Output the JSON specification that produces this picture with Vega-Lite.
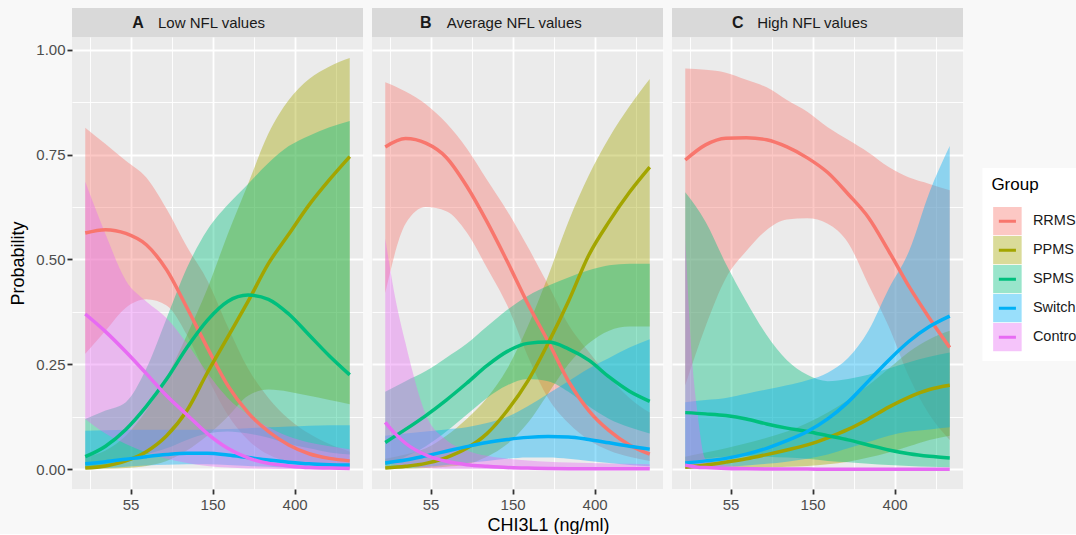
{
"$schema": "https://vega.github.io/schema/vega-lite/v6.json",
"background": "#F8F8F8",
"padding": {"left": 9, "top": 8, "right": 0, "bottom": 0},
"datasets": {"nfl": [
{"p":"A","g":"RRMS","x":31.4,"y":0.563,"lo":0.275,"hi":0.814},
{"p":"A","g":"RRMS","x":40.2,"y":0.571,"lo":0.33,"hi":0.775},
{"p":"A","g":"RRMS","x":51.5,"y":0.562,"lo":0.385,"hi":0.735},
{"p":"A","g":"RRMS","x":66.1,"y":0.535,"lo":0.405,"hi":0.695},
{"p":"A","g":"RRMS","x":84.7,"y":0.475,"lo":0.39,"hi":0.62},
{"p":"A","g":"RRMS","x":108.5,"y":0.385,"lo":0.32,"hi":0.53},
{"p":"A","g":"RRMS","x":139.1,"y":0.29,"lo":0.22,"hi":0.45},
{"p":"A","g":"RRMS","x":178.4,"y":0.2,"lo":0.13,"hi":0.34},
{"p":"A","g":"RRMS","x":228.6,"y":0.135,"lo":0.07,"hi":0.24},
{"p":"A","g":"RRMS","x":293.0,"y":0.09,"lo":0.035,"hi":0.17},
{"p":"A","g":"RRMS","x":375.5,"y":0.058,"lo":0.018,"hi":0.12},
{"p":"A","g":"RRMS","x":481.4,"y":0.037,"lo":0.01,"hi":0.085},
{"p":"A","g":"RRMS","x":617.0,"y":0.026,"lo":0.005,"hi":0.06},
{"p":"A","g":"RRMS","x":790.1,"y":0.02,"lo":0.003,"hi":0.042},
{"p":"A","g":"PPMS","x":31.4,"y":0.003,"lo":0.0005,"hi":0.03},
{"p":"A","g":"PPMS","x":40.2,"y":0.008,"lo":0.001,"hi":0.045},
{"p":"A","g":"PPMS","x":51.5,"y":0.02,"lo":0.003,"hi":0.08},
{"p":"A","g":"PPMS","x":66.1,"y":0.042,"lo":0.008,"hi":0.14},
{"p":"A","g":"PPMS","x":84.7,"y":0.08,"lo":0.02,"hi":0.22},
{"p":"A","g":"PPMS","x":108.5,"y":0.14,"lo":0.045,"hi":0.32},
{"p":"A","g":"PPMS","x":139.1,"y":0.23,"lo":0.08,"hi":0.43},
{"p":"A","g":"PPMS","x":178.4,"y":0.315,"lo":0.125,"hi":0.56},
{"p":"A","g":"PPMS","x":228.6,"y":0.4,"lo":0.175,"hi":0.68},
{"p":"A","g":"PPMS","x":293.0,"y":0.49,"lo":0.19,"hi":0.8},
{"p":"A","g":"PPMS","x":375.5,"y":0.56,"lo":0.185,"hi":0.88},
{"p":"A","g":"PPMS","x":481.4,"y":0.63,"lo":0.175,"hi":0.93},
{"p":"A","g":"PPMS","x":617.0,"y":0.69,"lo":0.165,"hi":0.96},
{"p":"A","g":"PPMS","x":790.1,"y":0.745,"lo":0.155,"hi":0.98},
{"p":"A","g":"SPMS","x":31.4,"y":0.03,"lo":0.005,"hi":0.12},
{"p":"A","g":"SPMS","x":40.2,"y":0.055,"lo":0.01,"hi":0.14},
{"p":"A","g":"SPMS","x":51.5,"y":0.095,"lo":0.02,"hi":0.16},
{"p":"A","g":"SPMS","x":66.1,"y":0.15,"lo":0.035,"hi":0.24},
{"p":"A","g":"SPMS","x":84.7,"y":0.215,"lo":0.05,"hi":0.36},
{"p":"A","g":"SPMS","x":108.5,"y":0.29,"lo":0.07,"hi":0.48},
{"p":"A","g":"SPMS","x":139.1,"y":0.355,"lo":0.085,"hi":0.57},
{"p":"A","g":"SPMS","x":178.4,"y":0.4,"lo":0.09,"hi":0.63},
{"p":"A","g":"SPMS","x":228.6,"y":0.415,"lo":0.085,"hi":0.68},
{"p":"A","g":"SPMS","x":293.0,"y":0.405,"lo":0.075,"hi":0.73},
{"p":"A","g":"SPMS","x":375.5,"y":0.37,"lo":0.06,"hi":0.77},
{"p":"A","g":"SPMS","x":481.4,"y":0.32,"lo":0.05,"hi":0.795},
{"p":"A","g":"SPMS","x":617.0,"y":0.27,"lo":0.04,"hi":0.815},
{"p":"A","g":"SPMS","x":790.1,"y":0.225,"lo":0.035,"hi":0.83},
{"p":"A","g":"Switch","x":31.4,"y":0.013,"lo":0.001,"hi":0.092},
{"p":"A","g":"Switch","x":40.2,"y":0.018,"lo":0.003,"hi":0.093},
{"p":"A","g":"Switch","x":51.5,"y":0.024,"lo":0.006,"hi":0.094},
{"p":"A","g":"Switch","x":66.1,"y":0.03,"lo":0.009,"hi":0.094},
{"p":"A","g":"Switch","x":84.7,"y":0.035,"lo":0.011,"hi":0.094},
{"p":"A","g":"Switch","x":108.5,"y":0.038,"lo":0.012,"hi":0.094},
{"p":"A","g":"Switch","x":139.1,"y":0.038,"lo":0.012,"hi":0.095},
{"p":"A","g":"Switch","x":178.4,"y":0.034,"lo":0.01,"hi":0.096},
{"p":"A","g":"Switch","x":228.6,"y":0.028,"lo":0.008,"hi":0.098},
{"p":"A","g":"Switch","x":293.0,"y":0.022,"lo":0.006,"hi":0.1},
{"p":"A","g":"Switch","x":375.5,"y":0.017,"lo":0.004,"hi":0.102},
{"p":"A","g":"Switch","x":481.4,"y":0.013,"lo":0.003,"hi":0.104},
{"p":"A","g":"Switch","x":617.0,"y":0.011,"lo":0.002,"hi":0.105},
{"p":"A","g":"Switch","x":790.1,"y":0.01,"lo":0.002,"hi":0.105},
{"p":"A","g":"Control","x":31.4,"y":0.37,"lo":0.12,"hi":0.685},
{"p":"A","g":"Control","x":40.2,"y":0.328,"lo":0.085,"hi":0.56},
{"p":"A","g":"Control","x":51.5,"y":0.28,"lo":0.06,"hi":0.45},
{"p":"A","g":"Control","x":66.1,"y":0.228,"lo":0.04,"hi":0.4},
{"p":"A","g":"Control","x":84.7,"y":0.175,"lo":0.025,"hi":0.36},
{"p":"A","g":"Control","x":108.5,"y":0.13,"lo":0.015,"hi":0.3},
{"p":"A","g":"Control","x":139.1,"y":0.085,"lo":0.008,"hi":0.23},
{"p":"A","g":"Control","x":178.4,"y":0.05,"lo":0.004,"hi":0.17},
{"p":"A","g":"Control","x":228.6,"y":0.027,"lo":0.002,"hi":0.13},
{"p":"A","g":"Control","x":293.0,"y":0.014,"lo":0.001,"hi":0.1},
{"p":"A","g":"Control","x":375.5,"y":0.008,"lo":0.0005,"hi":0.078},
{"p":"A","g":"Control","x":481.4,"y":0.004,"lo":0.0003,"hi":0.064},
{"p":"A","g":"Control","x":617.0,"y":0.003,"lo":0.0002,"hi":0.055},
{"p":"A","g":"Control","x":790.1,"y":0.002,"lo":0.0001,"hi":0.048},
{"p":"B","g":"RRMS","x":31.4,"y":0.768,"lo":0.42,"hi":0.922},
{"p":"B","g":"RRMS","x":40.2,"y":0.788,"lo":0.585,"hi":0.9},
{"p":"B","g":"RRMS","x":51.5,"y":0.777,"lo":0.625,"hi":0.87},
{"p":"B","g":"RRMS","x":66.1,"y":0.743,"lo":0.615,"hi":0.825},
{"p":"B","g":"RRMS","x":84.7,"y":0.675,"lo":0.565,"hi":0.765},
{"p":"B","g":"RRMS","x":108.5,"y":0.59,"lo":0.48,"hi":0.69},
{"p":"B","g":"RRMS","x":139.1,"y":0.495,"lo":0.39,"hi":0.615},
{"p":"B","g":"RRMS","x":178.4,"y":0.395,"lo":0.27,"hi":0.53},
{"p":"B","g":"RRMS","x":228.6,"y":0.305,"lo":0.17,"hi":0.44},
{"p":"B","g":"RRMS","x":293.0,"y":0.21,"lo":0.11,"hi":0.345},
{"p":"B","g":"RRMS","x":375.5,"y":0.14,"lo":0.07,"hi":0.28},
{"p":"B","g":"RRMS","x":481.4,"y":0.092,"lo":0.045,"hi":0.22},
{"p":"B","g":"RRMS","x":617.0,"y":0.058,"lo":0.03,"hi":0.17},
{"p":"B","g":"RRMS","x":790.1,"y":0.036,"lo":0.02,"hi":0.135},
{"p":"B","g":"PPMS","x":31.4,"y":0.003,"lo":0.0005,"hi":0.025},
{"p":"B","g":"PPMS","x":40.2,"y":0.007,"lo":0.001,"hi":0.035},
{"p":"B","g":"PPMS","x":51.5,"y":0.014,"lo":0.003,"hi":0.05},
{"p":"B","g":"PPMS","x":66.1,"y":0.028,"lo":0.006,"hi":0.08},
{"p":"B","g":"PPMS","x":84.7,"y":0.05,"lo":0.012,"hi":0.12},
{"p":"B","g":"PPMS","x":108.5,"y":0.085,"lo":0.03,"hi":0.17},
{"p":"B","g":"PPMS","x":139.1,"y":0.14,"lo":0.06,"hi":0.24},
{"p":"B","g":"PPMS","x":178.4,"y":0.21,"lo":0.11,"hi":0.34},
{"p":"B","g":"PPMS","x":228.6,"y":0.3,"lo":0.18,"hi":0.46},
{"p":"B","g":"PPMS","x":293.0,"y":0.4,"lo":0.25,"hi":0.59},
{"p":"B","g":"PPMS","x":375.5,"y":0.51,"lo":0.3,"hi":0.7},
{"p":"B","g":"PPMS","x":481.4,"y":0.59,"lo":0.33,"hi":0.79},
{"p":"B","g":"PPMS","x":617.0,"y":0.66,"lo":0.34,"hi":0.865},
{"p":"B","g":"PPMS","x":790.1,"y":0.72,"lo":0.34,"hi":0.93},
{"p":"B","g":"SPMS","x":31.4,"y":0.064,"lo":0.01,"hi":0.185},
{"p":"B","g":"SPMS","x":40.2,"y":0.095,"lo":0.03,"hi":0.21},
{"p":"B","g":"SPMS","x":51.5,"y":0.128,"lo":0.055,"hi":0.234},
{"p":"B","g":"SPMS","x":66.1,"y":0.165,"lo":0.09,"hi":0.266},
{"p":"B","g":"SPMS","x":84.7,"y":0.205,"lo":0.13,"hi":0.299},
{"p":"B","g":"SPMS","x":108.5,"y":0.247,"lo":0.17,"hi":0.34},
{"p":"B","g":"SPMS","x":139.1,"y":0.281,"lo":0.2,"hi":0.38},
{"p":"B","g":"SPMS","x":178.4,"y":0.3,"lo":0.215,"hi":0.413},
{"p":"B","g":"SPMS","x":228.6,"y":0.303,"lo":0.21,"hi":0.437},
{"p":"B","g":"SPMS","x":293.0,"y":0.287,"lo":0.185,"hi":0.457},
{"p":"B","g":"SPMS","x":375.5,"y":0.26,"lo":0.15,"hi":0.474},
{"p":"B","g":"SPMS","x":481.4,"y":0.22,"lo":0.12,"hi":0.486},
{"p":"B","g":"SPMS","x":617.0,"y":0.186,"lo":0.1,"hi":0.49},
{"p":"B","g":"SPMS","x":790.1,"y":0.162,"lo":0.085,"hi":0.49},
{"p":"B","g":"Switch","x":31.4,"y":0.015,"lo":0.002,"hi":0.08},
{"p":"B","g":"Switch","x":40.2,"y":0.022,"lo":0.003,"hi":0.085},
{"p":"B","g":"Switch","x":51.5,"y":0.032,"lo":0.006,"hi":0.09},
{"p":"B","g":"Switch","x":66.1,"y":0.043,"lo":0.01,"hi":0.095},
{"p":"B","g":"Switch","x":84.7,"y":0.054,"lo":0.015,"hi":0.1},
{"p":"B","g":"Switch","x":108.5,"y":0.064,"lo":0.02,"hi":0.11},
{"p":"B","g":"Switch","x":139.1,"y":0.071,"lo":0.025,"hi":0.125},
{"p":"B","g":"Switch","x":178.4,"y":0.076,"lo":0.028,"hi":0.15},
{"p":"B","g":"Switch","x":228.6,"y":0.078,"lo":0.028,"hi":0.18},
{"p":"B","g":"Switch","x":293.0,"y":0.077,"lo":0.025,"hi":0.21},
{"p":"B","g":"Switch","x":375.5,"y":0.071,"lo":0.02,"hi":0.24},
{"p":"B","g":"Switch","x":481.4,"y":0.063,"lo":0.015,"hi":0.265},
{"p":"B","g":"Switch","x":617.0,"y":0.055,"lo":0.01,"hi":0.29},
{"p":"B","g":"Switch","x":790.1,"y":0.048,"lo":0.007,"hi":0.31},
{"p":"B","g":"Control","x":31.4,"y":0.112,"lo":0.02,"hi":0.55},
{"p":"B","g":"Control","x":35.4,"y":0.085,"lo":0.012,"hi":0.41},
{"p":"B","g":"Control","x":40.2,"y":0.062,"lo":0.008,"hi":0.3},
{"p":"B","g":"Control","x":51.5,"y":0.034,"lo":0.003,"hi":0.13},
{"p":"B","g":"Control","x":66.1,"y":0.019,"lo":0.0015,"hi":0.07},
{"p":"B","g":"Control","x":84.7,"y":0.011,"lo":0.001,"hi":0.045},
{"p":"B","g":"Control","x":108.5,"y":0.007,"lo":0.0005,"hi":0.032},
{"p":"B","g":"Control","x":139.1,"y":0.004,"lo":0.0003,"hi":0.025},
{"p":"B","g":"Control","x":178.4,"y":0.003,"lo":0.0002,"hi":0.021},
{"p":"B","g":"Control","x":228.6,"y":0.002,"lo":0.0001,"hi":0.018},
{"p":"B","g":"Control","x":293.0,"y":0.0015,"lo":0.0001,"hi":0.016},
{"p":"B","g":"Control","x":375.5,"y":0.001,"lo":0.0001,"hi":0.015},
{"p":"B","g":"Control","x":481.4,"y":0.001,"lo":0.0001,"hi":0.014},
{"p":"B","g":"Control","x":617.0,"y":0.001,"lo":0.0001,"hi":0.013},
{"p":"B","g":"Control","x":790.1,"y":0.001,"lo":0.0001,"hi":0.012},
{"p":"C","g":"RRMS","x":31.4,"y":0.737,"lo":0.2,"hi":0.955},
{"p":"C","g":"RRMS","x":40.2,"y":0.773,"lo":0.34,"hi":0.952},
{"p":"C","g":"RRMS","x":51.5,"y":0.789,"lo":0.455,"hi":0.945},
{"p":"C","g":"RRMS","x":66.1,"y":0.79,"lo":0.52,"hi":0.928},
{"p":"C","g":"RRMS","x":84.7,"y":0.785,"lo":0.57,"hi":0.91},
{"p":"C","g":"RRMS","x":108.5,"y":0.768,"lo":0.595,"hi":0.88},
{"p":"C","g":"RRMS","x":139.1,"y":0.742,"lo":0.598,"hi":0.852},
{"p":"C","g":"RRMS","x":178.4,"y":0.707,"lo":0.585,"hi":0.815},
{"p":"C","g":"RRMS","x":228.6,"y":0.656,"lo":0.54,"hi":0.785},
{"p":"C","g":"RRMS","x":293.0,"y":0.6,"lo":0.44,"hi":0.755},
{"p":"C","g":"RRMS","x":375.5,"y":0.52,"lo":0.34,"hi":0.72},
{"p":"C","g":"RRMS","x":481.4,"y":0.435,"lo":0.22,"hi":0.695},
{"p":"C","g":"RRMS","x":617.0,"y":0.36,"lo":0.13,"hi":0.68},
{"p":"C","g":"RRMS","x":790.1,"y":0.29,"lo":0.07,"hi":0.665},
{"p":"C","g":"PPMS","x":31.4,"y":0.005,"lo":0.0005,"hi":0.03},
{"p":"C","g":"PPMS","x":40.2,"y":0.01,"lo":0.001,"hi":0.04},
{"p":"C","g":"PPMS","x":51.5,"y":0.017,"lo":0.002,"hi":0.05},
{"p":"C","g":"PPMS","x":66.1,"y":0.025,"lo":0.003,"hi":0.062},
{"p":"C","g":"PPMS","x":84.7,"y":0.035,"lo":0.004,"hi":0.075},
{"p":"C","g":"PPMS","x":108.5,"y":0.046,"lo":0.006,"hi":0.09},
{"p":"C","g":"PPMS","x":139.1,"y":0.058,"lo":0.008,"hi":0.11},
{"p":"C","g":"PPMS","x":178.4,"y":0.075,"lo":0.012,"hi":0.135},
{"p":"C","g":"PPMS","x":228.6,"y":0.095,"lo":0.018,"hi":0.165},
{"p":"C","g":"PPMS","x":293.0,"y":0.12,"lo":0.028,"hi":0.2},
{"p":"C","g":"PPMS","x":375.5,"y":0.148,"lo":0.04,"hi":0.24},
{"p":"C","g":"PPMS","x":481.4,"y":0.172,"lo":0.055,"hi":0.28},
{"p":"C","g":"PPMS","x":617.0,"y":0.19,"lo":0.07,"hi":0.31},
{"p":"C","g":"PPMS","x":790.1,"y":0.2,"lo":0.08,"hi":0.33},
{"p":"C","g":"SPMS","x":31.4,"y":0.135,"lo":0.015,"hi":0.66},
{"p":"C","g":"SPMS","x":40.2,"y":0.132,"lo":0.025,"hi":0.59},
{"p":"C","g":"SPMS","x":51.5,"y":0.128,"lo":0.03,"hi":0.49},
{"p":"C","g":"SPMS","x":66.1,"y":0.12,"lo":0.032,"hi":0.4},
{"p":"C","g":"SPMS","x":84.7,"y":0.108,"lo":0.03,"hi":0.32},
{"p":"C","g":"SPMS","x":108.5,"y":0.098,"lo":0.028,"hi":0.26},
{"p":"C","g":"SPMS","x":139.1,"y":0.09,"lo":0.025,"hi":0.225},
{"p":"C","g":"SPMS","x":178.4,"y":0.08,"lo":0.02,"hi":0.21},
{"p":"C","g":"SPMS","x":228.6,"y":0.07,"lo":0.017,"hi":0.215},
{"p":"C","g":"SPMS","x":293.0,"y":0.058,"lo":0.013,"hi":0.225},
{"p":"C","g":"SPMS","x":375.5,"y":0.046,"lo":0.01,"hi":0.24},
{"p":"C","g":"SPMS","x":481.4,"y":0.037,"lo":0.008,"hi":0.255},
{"p":"C","g":"SPMS","x":617.0,"y":0.031,"lo":0.006,"hi":0.268},
{"p":"C","g":"SPMS","x":790.1,"y":0.027,"lo":0.005,"hi":0.278},
{"p":"C","g":"Switch","x":31.4,"y":0.015,"lo":0.002,"hi":0.16},
{"p":"C","g":"Switch","x":40.2,"y":0.02,"lo":0.004,"hi":0.165},
{"p":"C","g":"Switch","x":51.5,"y":0.026,"lo":0.006,"hi":0.17},
{"p":"C","g":"Switch","x":66.1,"y":0.036,"lo":0.009,"hi":0.18},
{"p":"C","g":"Switch","x":84.7,"y":0.05,"lo":0.013,"hi":0.19},
{"p":"C","g":"Switch","x":108.5,"y":0.068,"lo":0.018,"hi":0.2},
{"p":"C","g":"Switch","x":139.1,"y":0.09,"lo":0.025,"hi":0.212},
{"p":"C","g":"Switch","x":178.4,"y":0.12,"lo":0.035,"hi":0.23},
{"p":"C","g":"Switch","x":228.6,"y":0.16,"lo":0.05,"hi":0.265},
{"p":"C","g":"Switch","x":293.0,"y":0.21,"lo":0.065,"hi":0.33},
{"p":"C","g":"Switch","x":375.5,"y":0.26,"lo":0.08,"hi":0.43},
{"p":"C","g":"Switch","x":481.4,"y":0.305,"lo":0.09,"hi":0.52},
{"p":"C","g":"Switch","x":617.0,"y":0.34,"lo":0.095,"hi":0.66},
{"p":"C","g":"Switch","x":790.1,"y":0.365,"lo":0.1,"hi":0.77},
{"p":"C","g":"Control","x":31.4,"y":0.01,"lo":0.0005,"hi":0.55},
{"p":"C","g":"Control","x":33.8,"y":0.007,"lo":0.0003,"hi":0.286},
{"p":"C","g":"Control","x":36.6,"y":0.005,"lo":0.0002,"hi":0.127},
{"p":"C","g":"Control","x":40.2,"y":0.004,"lo":0.0002,"hi":0.025},
{"p":"C","g":"Control","x":51.5,"y":0.002,"lo":0.0001,"hi":0.01},
{"p":"C","g":"Control","x":66.1,"y":0.0012,"lo":0,"hi":0.006},
{"p":"C","g":"Control","x":84.7,"y":0.0008,"lo":0,"hi":0.004},
{"p":"C","g":"Control","x":108.5,"y":0.0005,"lo":0,"hi":0.003},
{"p":"C","g":"Control","x":139.1,"y":0.0004,"lo":0,"hi":0.002},
{"p":"C","g":"Control","x":178.4,"y":0.0003,"lo":0,"hi":0.002},
{"p":"C","g":"Control","x":228.6,"y":0.0002,"lo":0,"hi":0.002},
{"p":"C","g":"Control","x":293.0,"y":0.0002,"lo":0,"hi":0.002},
{"p":"C","g":"Control","x":375.5,"y":0.0001,"lo":0,"hi":0.002},
{"p":"C","g":"Control","x":481.4,"y":0.0001,"lo":0,"hi":0.002},
{"p":"C","g":"Control","x":617.0,"y":0.0001,"lo":0,"hi":0.002},
{"p":"C","g":"Control","x":790.1,"y":0.0001,"lo":0,"hi":0.002}
]},
"spacing": 9,
"resolve": {"scale": {"fill": "shared", "stroke": "shared"}},
"hconcat": [
 {"spacing": 0, "vconcat": [
  {"width": 291, "height": 29, "view": {"fill": "#D9D9D9", "stroke": null},
   "data": {"values": [{"letter": "A", "label": "Low NFL values"}]},
   "layer": [
    {"mark": {"type": "text", "fontWeight": "bold", "fontSize": 16, "dx": -79.5, "color": "#1A1A1A", "baseline": "middle"}, "encoding": {"text": {"field": "letter"}}},
    {"mark": {"type": "text", "fontSize": 15, "dx": -6, "color": "#1A1A1A", "baseline": "middle"}, "encoding": {"text": {"field": "label"}}}
   ]},
  {"width": 291, "height": 452,
   "data": {"name": "nfl"}, "transform": [{"filter": "datum.p == 'A'"}],
   "encoding": {"x": {"field": "x", "type": "quantitative", "scale": {"type": "log", "domain": [26.71, 928.9], "nice": false},
     "axis": {"title": null, "values": [33.115, 54.598, 90.017, 148.413, 244.692, 403.429, 665.142],
       "labelExpr": "abs(log(datum.value) - round(log(datum.value))) > 0.2 ? '' : format(datum.value, '.2r')",
       "gridWidth": {"condition": {"test": "abs(log(datum.value) - round(log(datum.value))) > 0.2", "value": 0.9}, "value": 1.8},
       "tickOpacity": {"condition": {"test": "abs(log(datum.value) - round(log(datum.value))) > 0.2", "value": 0}, "value": 1}}}},
   "layer": [
    {"mark": {"type": "area", "fillOpacity": 0.4, "interpolate": "monotone"},
     "encoding": {
      "y": {"field": "hi", "type": "quantitative", "scale": {"domain": [-0.047, 1.03], "nice": false, "zero": false},
        "axis": {"title": "Probability", "values": [0, 0.125, 0.25, 0.375, 0.5, 0.625, 0.75, 0.875, 1], "minExtent": 40, "maxExtent": 40, "titlePadding": 5,
          "labelExpr": "abs(datum.value*4 - round(datum.value*4)) > 0.1 ? '' : format(datum.value, '.2f')",
          "gridWidth": {"condition": {"test": "abs(datum.value*4 - round(datum.value*4)) > 0.1", "value": 0.9}, "value": 1.8},
          "tickOpacity": {"condition": {"test": "abs(datum.value*4 - round(datum.value*4)) > 0.1", "value": 0}, "value": 1}}},
      "y2": {"field": "lo"},
      "fill": {"field": "g", "type": "nominal", "scale": {"domain": ["RRMS", "PPMS", "SPMS", "Switch", "Control"], "range": ["#F8766D", "#A3A500", "#00BF7D", "#00B0F6", "#E76BF3"]},
        "legend": {"title": "Group", "orient": "none", "legendX": 910.4, "legendY": 160, "zindex": 0, "symbolType": "M-1,-1H1V1H-1Z", "symbolSize": 812, "symbolOpacity": 0.4, "symbolStrokeWidth": 3, "symbolStrokeColor": "transparent", "fillColor": "#FFFFFF", "padding": 9, "rowPadding": 0, "clipHeight": 28.4, "labelOffset": 9.5, "titlePadding": 13}}
     }},
    {"mark": {"type": "line", "strokeWidth": 3.5, "interpolate": "monotone"},
     "encoding": {
      "y": {"field": "y", "type": "quantitative"},
      "stroke": {"field": "g", "type": "nominal", "sort": ["RRMS", "PPMS", "SPMS", "Switch", "Control"], "scale": {"range": ["#F8766D", "#A3A500", "#00BF7D", "#00B0F6", "#E76BF3"]},
        "legend": {"title": " ", "labelExpr": "''", "orient": "none", "legendX": 910.4, "legendY": 160, "zindex": 1, "symbolType": "M-1,-1M1,1M-0.6,0H0.6", "symbolSize": 812, "symbolStrokeWidth": 3, "padding": 9, "rowPadding": 0, "clipHeight": 28.4, "labelOffset": 9.5, "titlePadding": 13}}
     }}
   ]}
 ]},
 {"spacing": 0, "vconcat": [
  {"width": 291, "height": 29, "view": {"fill": "#D9D9D9", "stroke": null},
   "data": {"values": [{"letter": "B", "label": "Average NFL values"}]},
   "layer": [
    {"mark": {"type": "text", "fontWeight": "bold", "fontSize": 16, "dx": -91.8, "color": "#1A1A1A", "baseline": "middle"}, "encoding": {"text": {"field": "letter"}}},
    {"mark": {"type": "text", "fontSize": 15, "dx": -3.3, "color": "#1A1A1A", "baseline": "middle"}, "encoding": {"text": {"field": "label"}}}
   ]},
  {"width": 291, "height": 452,
   "data": {"name": "nfl"}, "transform": [{"filter": "datum.p == 'B'"}],
   "encoding": {"x": {"field": "x", "type": "quantitative", "scale": {"type": "log", "domain": [26.71, 928.9], "nice": false},
     "axis": {"title": "CHI3L1 (ng/ml)", "titleX": 176, "values": [33.115, 54.598, 90.017, 148.413, 244.692, 403.429, 665.142],
       "labelExpr": "abs(log(datum.value) - round(log(datum.value))) > 0.2 ? '' : format(datum.value, '.2r')",
       "gridWidth": {"condition": {"test": "abs(log(datum.value) - round(log(datum.value))) > 0.2", "value": 0.9}, "value": 1.8},
       "tickOpacity": {"condition": {"test": "abs(log(datum.value) - round(log(datum.value))) > 0.2", "value": 0}, "value": 1}}}},
   "layer": [
    {"mark": {"type": "area", "fillOpacity": 0.4, "interpolate": "monotone"},
     "encoding": {
      "y": {"field": "hi", "type": "quantitative", "scale": {"domain": [-0.047, 1.03], "nice": false, "zero": false},
        "axis": {"title": null, "labels": false, "ticks": false, "minExtent": 0, "maxExtent": 0, "values": [0, 0.125, 0.25, 0.375, 0.5, 0.625, 0.75, 0.875, 1],
          "gridWidth": {"condition": {"test": "abs(datum.value*4 - round(datum.value*4)) > 0.1", "value": 0.9}, "value": 1.8}}},
      "y2": {"field": "lo"},
      "fill": {"field": "g", "type": "nominal", "scale": {"domain": ["RRMS", "PPMS", "SPMS", "Switch", "Control"], "range": ["#F8766D", "#A3A500", "#00BF7D", "#00B0F6", "#E76BF3"]}}
     }},
    {"mark": {"type": "line", "strokeWidth": 3.5, "interpolate": "monotone"},
     "encoding": {
      "y": {"field": "y", "type": "quantitative"},
      "stroke": {"field": "g", "type": "nominal", "sort": ["RRMS", "PPMS", "SPMS", "Switch", "Control"], "scale": {"range": ["#F8766D", "#A3A500", "#00BF7D", "#00B0F6", "#E76BF3"]}}
     }}
   ]}
 ]},
 {"spacing": 0, "vconcat": [
  {"width": 291, "height": 29, "view": {"fill": "#D9D9D9", "stroke": null},
   "data": {"values": [{"letter": "C", "label": "High NFL values"}]},
   "layer": [
    {"mark": {"type": "text", "fontWeight": "bold", "fontSize": 16, "dx": -79.7, "color": "#1A1A1A", "baseline": "middle"}, "encoding": {"text": {"field": "letter"}}},
    {"mark": {"type": "text", "fontSize": 15, "dx": -5.2, "color": "#1A1A1A", "baseline": "middle"}, "encoding": {"text": {"field": "label"}}}
   ]},
  {"width": 291, "height": 452,
   "data": {"name": "nfl"}, "transform": [{"filter": "datum.p == 'C'"}],
   "encoding": {"x": {"field": "x", "type": "quantitative", "scale": {"type": "log", "domain": [26.71, 928.9], "nice": false},
     "axis": {"title": null, "values": [33.115, 54.598, 90.017, 148.413, 244.692, 403.429, 665.142],
       "labelExpr": "abs(log(datum.value) - round(log(datum.value))) > 0.2 ? '' : format(datum.value, '.2r')",
       "gridWidth": {"condition": {"test": "abs(log(datum.value) - round(log(datum.value))) > 0.2", "value": 0.9}, "value": 1.8},
       "tickOpacity": {"condition": {"test": "abs(log(datum.value) - round(log(datum.value))) > 0.2", "value": 0}, "value": 1}}}},
   "layer": [
    {"mark": {"type": "area", "fillOpacity": 0.4, "interpolate": "monotone"},
     "encoding": {
      "y": {"field": "hi", "type": "quantitative", "scale": {"domain": [-0.047, 1.03], "nice": false, "zero": false},
        "axis": {"title": null, "labels": false, "ticks": false, "minExtent": 0, "maxExtent": 0, "values": [0, 0.125, 0.25, 0.375, 0.5, 0.625, 0.75, 0.875, 1],
          "gridWidth": {"condition": {"test": "abs(datum.value*4 - round(datum.value*4)) > 0.1", "value": 0.9}, "value": 1.8}}},
      "y2": {"field": "lo"},
      "fill": {"field": "g", "type": "nominal", "scale": {"domain": ["RRMS", "PPMS", "SPMS", "Switch", "Control"], "range": ["#F8766D", "#A3A500", "#00BF7D", "#00B0F6", "#E76BF3"]}}
     }},
    {"mark": {"type": "line", "strokeWidth": 3.5, "interpolate": "monotone"},
     "encoding": {
      "y": {"field": "y", "type": "quantitative"},
      "stroke": {"field": "g", "type": "nominal", "sort": ["RRMS", "PPMS", "SPMS", "Switch", "Control"], "scale": {"range": ["#F8766D", "#A3A500", "#00BF7D", "#00B0F6", "#E76BF3"]}}
     }}
   ]}
 ]}
],
"config": {
 "font": "Liberation Sans",
 "view": {"fill": "#EBEBEB", "stroke": null},
 "axis": {"domain": false, "grid": true, "gridColor": "#FFFFFF", "tickColor": "#333333", "tickSize": 5, "tickWidth": 1.8, "labelColor": "#4D4D4D", "labelFontSize": 15, "labelPadding": 2, "titleFontSize": 18, "titleFontWeight": "normal", "titleColor": "#000000"},
 "axisX": {"labelPadding": 3, "titlePadding": 4},
 "legend": {"titleFontSize": 17, "titleFontWeight": "normal", "titleColor": "#000000", "labelFontSize": 14.5, "labelColor": "#1A1A1A", "labelLimit": 300}
}
}
